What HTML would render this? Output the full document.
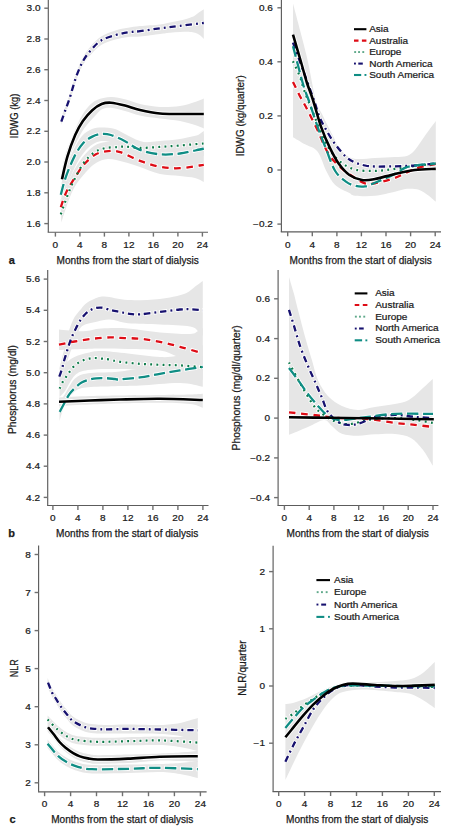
<!DOCTYPE html>
<html><head><meta charset="utf-8"><style>
html,body{margin:0;padding:0;background:#fff;width:451px;height:827px;overflow:hidden}
svg{display:block}
</style></head><body><svg width="451" height="827" viewBox="0 0 451 827" font-family='"Liberation Sans", sans-serif' fill="#1a1a1a" stroke-linejoin="round"><style>text{stroke:#1a1a1a;stroke-width:0.25px}</style><line x1="48.3" y1="0.0" x2="48.3" y2="232.2" stroke="#5c5c5c" stroke-width="1.15"/><line x1="47.7" y1="232.2" x2="208.0" y2="232.2" stroke="#5c5c5c" stroke-width="1.15"/><line x1="44.3" y1="8.2" x2="48.3" y2="8.2" stroke="#707070" stroke-width="1.4"/><text transform="translate(40.5,11.3) scale(1,0.850)" font-size="10" text-anchor="end" font-weight="normal" >3.0</text><line x1="44.3" y1="39.0" x2="48.3" y2="39.0" stroke="#707070" stroke-width="1.4"/><text transform="translate(40.5,42.1) scale(1,0.850)" font-size="10" text-anchor="end" font-weight="normal" >2.8</text><line x1="44.3" y1="69.7" x2="48.3" y2="69.7" stroke="#707070" stroke-width="1.4"/><text transform="translate(40.5,72.8) scale(1,0.850)" font-size="10" text-anchor="end" font-weight="normal" >2.6</text><line x1="44.3" y1="100.5" x2="48.3" y2="100.5" stroke="#707070" stroke-width="1.4"/><text transform="translate(40.5,103.6) scale(1,0.850)" font-size="10" text-anchor="end" font-weight="normal" >2.4</text><line x1="44.3" y1="131.3" x2="48.3" y2="131.3" stroke="#707070" stroke-width="1.4"/><text transform="translate(40.5,134.4) scale(1,0.850)" font-size="10" text-anchor="end" font-weight="normal" >2.2</text><line x1="44.3" y1="162.0" x2="48.3" y2="162.0" stroke="#707070" stroke-width="1.4"/><text transform="translate(40.5,165.1) scale(1,0.850)" font-size="10" text-anchor="end" font-weight="normal" >2.0</text><line x1="44.3" y1="192.8" x2="48.3" y2="192.8" stroke="#707070" stroke-width="1.4"/><text transform="translate(40.5,195.9) scale(1,0.850)" font-size="10" text-anchor="end" font-weight="normal" >1.8</text><line x1="44.3" y1="223.6" x2="48.3" y2="223.6" stroke="#707070" stroke-width="1.4"/><text transform="translate(40.5,226.7) scale(1,0.850)" font-size="10" text-anchor="end" font-weight="normal" >1.6</text><line x1="55.4" y1="232.2" x2="55.4" y2="236.6" stroke="#707070" stroke-width="1.4"/><text transform="translate(55.4,247.5) scale(1,0.850)" font-size="10" text-anchor="middle" font-weight="normal" >0</text><line x1="79.9" y1="232.2" x2="79.9" y2="236.6" stroke="#707070" stroke-width="1.4"/><text transform="translate(79.9,247.5) scale(1,0.850)" font-size="10" text-anchor="middle" font-weight="normal" >4</text><line x1="104.4" y1="232.2" x2="104.4" y2="236.6" stroke="#707070" stroke-width="1.4"/><text transform="translate(104.4,247.5) scale(1,0.850)" font-size="10" text-anchor="middle" font-weight="normal" >8</text><line x1="128.9" y1="232.2" x2="128.9" y2="236.6" stroke="#707070" stroke-width="1.4"/><text transform="translate(128.9,247.5) scale(1,0.850)" font-size="10" text-anchor="middle" font-weight="normal" >12</text><line x1="153.4" y1="232.2" x2="153.4" y2="236.6" stroke="#707070" stroke-width="1.4"/><text transform="translate(153.4,247.5) scale(1,0.850)" font-size="10" text-anchor="middle" font-weight="normal" >16</text><line x1="177.9" y1="232.2" x2="177.9" y2="236.6" stroke="#707070" stroke-width="1.4"/><text transform="translate(177.9,247.5) scale(1,0.850)" font-size="10" text-anchor="middle" font-weight="normal" >20</text><line x1="202.4" y1="232.2" x2="202.4" y2="236.6" stroke="#707070" stroke-width="1.4"/><text transform="translate(202.4,247.5) scale(1,0.850)" font-size="10" text-anchor="middle" font-weight="normal" >24</text><text transform="translate(18.2,115.9) rotate(-90)" font-size="10" text-anchor="middle" textLength="44.6" lengthAdjust="spacingAndGlyphs">IDWG (kg)</text><text x="56.6" y="263.8" font-size="10" text-anchor="start" font-weight="normal" textLength="142.2" lengthAdjust="spacingAndGlyphs">Months from the start of dialysis</text><path d="M61.3,117.5 C62.6,113.8 66.8,103.0 69.3,95.5 C71.8,88.0 74.0,79.0 76.4,72.5 C78.8,66.0 81.0,61.0 83.5,56.5 C86.0,52.0 88.5,48.8 91.4,45.5 C94.4,42.2 97.2,39.0 101.2,36.5 C105.2,34.0 110.9,31.9 115.4,30.5 C119.9,29.1 123.9,28.5 128.0,27.8 C132.1,27.1 134.7,26.7 140.0,26.1 C145.3,25.5 155.0,25.0 160.0,24.4 C165.0,23.8 166.7,23.0 170.0,22.4 C173.3,21.8 176.7,21.4 180.0,20.6 C183.3,19.8 187.5,18.6 190.0,17.7 C192.5,16.8 193.3,16.5 195.0,15.5 C196.7,14.5 198.5,12.8 200.0,11.8 C201.5,10.8 203.2,9.7 203.8,9.3 L203.8,39.0 C203.2,38.4 201.5,36.3 200.0,35.3 C198.5,34.3 196.7,33.4 195.0,32.8 C193.3,32.2 192.5,32.0 190.0,31.9 C187.5,31.8 183.3,31.9 180.0,32.0 C176.7,32.1 173.3,32.5 170.0,32.8 C166.7,33.1 165.0,33.4 160.0,34.0 C155.0,34.6 145.3,36.1 140.0,36.6 C134.7,37.1 132.1,36.5 128.0,37.0 C123.9,37.5 119.9,38.2 115.4,39.5 C110.9,40.8 105.2,42.6 101.2,45.0 C97.2,47.4 94.4,50.8 91.4,54.0 C88.5,57.2 86.0,59.7 83.5,64.0 C81.0,68.3 78.8,73.5 76.4,80.0 C74.0,86.5 71.8,95.5 69.3,103.0 C66.8,110.5 62.6,121.3 61.3,125.0 Z" fill="#e6e6e6"/><path d="M60.5,178.0 C61.2,174.3 63.1,162.8 65.0,156.0 C66.9,149.2 69.5,143.7 72.0,137.5 C74.5,131.3 77.3,124.1 80.0,119.0 C82.7,113.9 85.2,110.2 88.0,107.0 C90.8,103.8 93.2,101.7 97.0,100.0 C100.8,98.3 106.2,97.1 110.9,97.0 C115.6,96.9 120.2,98.1 125.0,99.3 C129.8,100.5 134.2,102.7 140.0,104.0 C145.8,105.3 153.3,106.7 160.0,107.0 C166.7,107.3 174.2,106.8 180.0,106.0 C185.8,105.2 191.0,103.2 195.0,102.0 C199.0,100.8 202.3,99.1 203.8,98.5 L203.8,128.5 C202.3,127.9 199.0,126.2 195.0,125.0 C191.0,123.8 185.8,122.1 180.0,121.0 C174.2,119.9 166.7,119.4 160.0,118.5 C153.3,117.6 145.8,116.8 140.0,115.5 C134.2,114.2 129.8,112.3 125.0,111.0 C120.2,109.7 114.8,108.1 110.9,107.8 C107.0,107.5 104.2,108.0 101.6,109.4 C98.9,110.8 97.8,112.9 95.0,116.0 C92.2,119.1 87.7,123.5 84.5,128.0 C81.3,132.5 78.7,137.7 76.0,143.0 C73.3,148.3 70.7,153.7 68.5,160.0 C66.3,166.3 63.9,177.5 63.0,181.0 Z" fill="#e6e6e6"/><path d="M60.5,188.0 C61.2,185.0 62.9,176.2 65.0,170.0 C67.1,163.8 70.2,156.7 73.0,151.0 C75.8,145.3 78.8,139.7 82.0,136.0 C85.2,132.3 88.7,130.4 92.0,129.0 C95.3,127.6 97.8,127.5 101.6,127.5 C105.4,127.5 111.1,127.9 115.0,129.0 C118.9,130.1 120.8,132.0 125.0,134.0 C129.2,136.0 134.2,139.2 140.0,141.0 C145.8,142.8 153.3,144.0 160.0,144.5 C166.7,145.0 174.2,145.2 180.0,144.0 C185.8,142.8 191.0,139.2 195.0,137.0 C199.0,134.8 202.3,132.0 203.8,131.0 L203.8,156.0 C199.8,156.5 187.3,158.3 180.0,159.0 C172.7,159.7 166.7,160.5 160.0,160.0 C153.3,159.5 145.7,157.9 140.0,156.0 C134.3,154.1 130.2,150.6 126.0,148.5 C121.8,146.4 118.7,144.8 115.0,143.5 C111.3,142.2 107.3,141.1 104.0,141.0 C100.7,140.9 98.0,141.5 95.0,143.0 C92.0,144.5 89.0,146.7 86.0,150.0 C83.0,153.3 80.0,157.5 77.0,163.0 C74.0,168.5 70.5,176.8 68.0,183.0 C65.5,189.2 63.0,197.2 62.0,200.0 Z" fill="#e6e6e6"/><path d="M60.5,200.0 C61.2,198.3 63.1,194.3 65.0,190.0 C66.9,185.7 69.2,179.3 72.0,174.0 C74.8,168.7 78.3,162.7 82.0,158.0 C85.7,153.3 90.0,148.7 94.0,146.0 C98.0,143.3 101.7,142.8 106.0,142.0 C110.3,141.2 114.3,141.4 120.0,141.5 C125.7,141.6 133.3,142.6 140.0,142.5 C146.7,142.4 153.3,141.6 160.0,141.0 C166.7,140.4 172.7,140.2 180.0,139.0 C187.3,137.8 199.8,134.8 203.8,134.0 L203.8,182.0 C202.3,181.3 199.0,179.0 195.0,178.0 C191.0,177.0 185.8,176.7 180.0,176.0 C174.2,175.3 166.7,175.5 160.0,174.0 C153.3,172.5 146.0,169.0 140.0,167.0 C134.0,165.0 129.3,163.3 124.0,162.0 C118.7,160.7 112.7,158.8 108.0,159.0 C103.3,159.2 99.7,160.8 96.0,163.0 C92.3,165.2 89.7,167.8 86.0,172.0 C82.3,176.2 77.3,182.0 74.0,188.0 C70.7,194.0 68.1,202.2 66.0,208.0 C63.9,213.8 62.1,220.2 61.3,222.6 Z" fill="#e6e6e6"/><path d="M60.8,207.2 C61.6,204.9 63.7,197.8 65.7,193.4 C67.7,189.0 69.8,185.6 72.8,180.9 C75.8,176.2 79.7,169.4 83.5,165.0 C87.3,160.6 91.8,156.6 95.9,154.3 C100.0,152.0 104.2,151.5 108.3,151.1 C112.3,150.7 114.9,150.5 120.2,152.1 C125.5,153.7 133.4,158.4 140.0,160.8 C146.6,163.2 153.3,165.6 160.0,166.8 C166.7,168.0 172.6,168.5 179.9,168.2 C187.2,167.9 199.8,165.4 203.8,164.8" fill="none" stroke="#fff" stroke-width="4.0" stroke-dasharray="8.2 4.0" stroke-dashoffset="0.8"/><path d="M60.8,214.3 C61.6,212.0 63.7,205.7 65.7,200.4 C67.7,195.1 69.8,188.9 72.8,182.7 C75.8,176.5 80.0,168.2 83.5,163.2 C87.0,158.2 90.6,155.1 94.1,152.6 C97.6,150.1 100.9,149.1 104.7,148.2 C108.5,147.3 113.7,147.4 117.1,147.1 C120.5,146.8 121.2,146.5 125.0,146.6 C128.8,146.7 134.2,147.8 140.0,147.9 C145.8,148.0 153.3,147.3 160.0,146.9 C166.7,146.5 172.6,146.1 179.9,145.5 C187.2,144.9 199.8,143.8 203.8,143.5" fill="none" stroke="#fff" stroke-width="3.8" stroke-dasharray="3.5 2.7" stroke-dashoffset="0.8"/><path d="M61.3,121.6 C61.9,119.8 63.9,114.2 65.2,110.5 C66.5,106.8 67.4,105.0 69.3,99.3 C71.2,93.6 74.0,82.7 76.4,76.2 C78.8,69.7 81.0,64.7 83.5,60.3 C86.0,55.9 88.5,52.9 91.4,49.6 C94.4,46.3 97.2,42.8 101.2,40.4 C105.2,38.0 110.9,36.5 115.4,35.1 C119.9,33.8 123.9,32.9 128.0,32.3 C132.1,31.6 134.7,31.9 140.0,31.2 C145.3,30.5 153.3,29.2 160.0,28.3 C166.7,27.4 172.7,26.8 180.0,25.9 C187.3,25.0 199.8,23.5 203.8,23.0" fill="none" stroke="#fff" stroke-width="4.0" stroke-dasharray="8.0 2.4 3.5 2.3" stroke-dashoffset="0.8"/><path d="M60.8,194.8 C61.6,191.9 63.4,183.9 65.7,177.4 C68.0,170.9 71.6,161.9 74.6,156.1 C77.6,150.3 80.5,146.1 83.5,142.8 C86.5,139.6 89.3,138.1 92.3,136.6 C95.3,135.1 98.5,134.2 101.6,133.9 C104.7,133.6 107.0,133.8 110.9,135.0 C114.8,136.2 120.2,138.7 125.0,141.2 C129.8,143.7 134.2,147.7 140.0,149.9 C145.8,152.1 153.3,153.7 160.0,154.3 C166.7,154.9 173.3,154.3 179.9,153.5 C186.5,152.7 195.8,150.3 199.8,149.5 C203.8,148.7 203.1,148.7 203.8,148.5" fill="none" stroke="#fff" stroke-width="4.0" stroke-dasharray="12.8 3.0" stroke-dashoffset="0.8"/><path d="M62.0,179.2 C62.9,175.4 65.2,164.1 67.4,156.7 C69.6,149.3 72.6,140.9 75.2,135.0 C77.8,129.1 80.1,125.1 82.9,121.0 C85.8,116.9 89.2,113.0 92.3,110.2 C95.4,107.4 98.5,105.2 101.6,104.0 C104.7,102.8 107.0,102.5 110.9,102.7 C114.8,103.0 120.2,104.3 125.0,105.5 C129.8,106.7 134.2,108.7 140.0,110.0 C145.8,111.3 153.3,112.8 160.0,113.5 C166.7,114.2 172.7,113.9 180.0,114.0 C187.3,114.1 199.8,114.0 203.8,114.0" fill="none" stroke="#fff" stroke-width="4.3"/><path d="M60.8,207.2 C61.6,204.9 63.7,197.8 65.7,193.4 C67.7,189.0 69.8,185.6 72.8,180.9 C75.8,176.2 79.7,169.4 83.5,165.0 C87.3,160.6 91.8,156.6 95.9,154.3 C100.0,152.0 104.2,151.5 108.3,151.1 C112.3,150.7 114.9,150.5 120.2,152.1 C125.5,153.7 133.4,158.4 140.0,160.8 C146.6,163.2 153.3,165.6 160.0,166.8 C166.7,168.0 172.6,168.5 179.9,168.2 C187.2,167.9 199.8,165.4 203.8,164.8" fill="none" stroke="#de0c16" stroke-width="2.3" stroke-dasharray="6.6 5.6"/><path d="M60.8,214.3 C61.6,212.0 63.7,205.7 65.7,200.4 C67.7,195.1 69.8,188.9 72.8,182.7 C75.8,176.5 80.0,168.2 83.5,163.2 C87.0,158.2 90.6,155.1 94.1,152.6 C97.6,150.1 100.9,149.1 104.7,148.2 C108.5,147.3 113.7,147.4 117.1,147.1 C120.5,146.8 121.2,146.5 125.0,146.6 C128.8,146.7 134.2,147.8 140.0,147.9 C145.8,148.0 153.3,147.3 160.0,146.9 C166.7,146.5 172.6,146.1 179.9,145.5 C187.2,144.9 199.8,143.8 203.8,143.5" fill="none" stroke="#0c7a48" stroke-width="2.2" stroke-dasharray="1.9 4.3"/><path d="M61.3,121.6 C61.9,119.8 63.9,114.2 65.2,110.5 C66.5,106.8 67.4,105.0 69.3,99.3 C71.2,93.6 74.0,82.7 76.4,76.2 C78.8,69.7 81.0,64.7 83.5,60.3 C86.0,55.9 88.5,52.9 91.4,49.6 C94.4,46.3 97.2,42.8 101.2,40.4 C105.2,38.0 110.9,36.5 115.4,35.1 C119.9,33.8 123.9,32.9 128.0,32.3 C132.1,31.6 134.7,31.9 140.0,31.2 C145.3,30.5 153.3,29.2 160.0,28.3 C166.7,27.4 172.7,26.8 180.0,25.9 C187.3,25.0 199.8,23.5 203.8,23.0" fill="none" stroke="#17116f" stroke-width="2.3" stroke-dasharray="6.4 4 1.9 3.9"/><path d="M60.8,194.8 C61.6,191.9 63.4,183.9 65.7,177.4 C68.0,170.9 71.6,161.9 74.6,156.1 C77.6,150.3 80.5,146.1 83.5,142.8 C86.5,139.6 89.3,138.1 92.3,136.6 C95.3,135.1 98.5,134.2 101.6,133.9 C104.7,133.6 107.0,133.8 110.9,135.0 C114.8,136.2 120.2,138.7 125.0,141.2 C129.8,143.7 134.2,147.7 140.0,149.9 C145.8,152.1 153.3,153.7 160.0,154.3 C166.7,154.9 173.3,154.3 179.9,153.5 C186.5,152.7 195.8,150.3 199.8,149.5 C203.8,148.7 203.1,148.7 203.8,148.5" fill="none" stroke="#0f8d84" stroke-width="2.3" stroke-dasharray="11.2 4.6"/><path d="M62.0,179.2 C62.9,175.4 65.2,164.1 67.4,156.7 C69.6,149.3 72.6,140.9 75.2,135.0 C77.8,129.1 80.1,125.1 82.9,121.0 C85.8,116.9 89.2,113.0 92.3,110.2 C95.4,107.4 98.5,105.2 101.6,104.0 C104.7,102.8 107.0,102.5 110.9,102.7 C114.8,103.0 120.2,104.3 125.0,105.5 C129.8,106.7 134.2,108.7 140.0,110.0 C145.8,111.3 153.3,112.8 160.0,113.5 C166.7,114.2 172.7,113.9 180.0,114.0 C187.3,114.1 199.8,114.0 203.8,114.0" fill="none" stroke="#000000" stroke-width="2.6"/><line x1="281.4" y1="0.0" x2="281.4" y2="231.9" stroke="#5c5c5c" stroke-width="1.15"/><line x1="280.8" y1="231.9" x2="441.0" y2="231.9" stroke="#5c5c5c" stroke-width="1.15"/><line x1="277.4" y1="7.8" x2="281.4" y2="7.8" stroke="#707070" stroke-width="1.4"/><text transform="translate(272.8,10.9) scale(1,0.850)" font-size="10" text-anchor="end" font-weight="normal" >0.6</text><line x1="277.4" y1="61.8" x2="281.4" y2="61.8" stroke="#707070" stroke-width="1.4"/><text transform="translate(272.8,64.9) scale(1,0.850)" font-size="10" text-anchor="end" font-weight="normal" >0.4</text><line x1="277.4" y1="115.9" x2="281.4" y2="115.9" stroke="#707070" stroke-width="1.4"/><text transform="translate(272.8,119.0) scale(1,0.850)" font-size="10" text-anchor="end" font-weight="normal" >0.2</text><line x1="277.4" y1="170.0" x2="281.4" y2="170.0" stroke="#707070" stroke-width="1.4"/><text transform="translate(272.8,173.1) scale(1,0.850)" font-size="10" text-anchor="end" font-weight="normal" >0</text><line x1="277.4" y1="224.1" x2="281.4" y2="224.1" stroke="#707070" stroke-width="1.4"/><text transform="translate(272.8,227.2) scale(1,0.850)" font-size="10" text-anchor="end" font-weight="normal" >−0.2</text><line x1="287.7" y1="231.9" x2="287.7" y2="236.3" stroke="#707070" stroke-width="1.4"/><text transform="translate(287.7,247.5) scale(1,0.850)" font-size="10" text-anchor="middle" font-weight="normal" >0</text><line x1="312.3" y1="231.9" x2="312.3" y2="236.3" stroke="#707070" stroke-width="1.4"/><text transform="translate(312.3,247.5) scale(1,0.850)" font-size="10" text-anchor="middle" font-weight="normal" >4</text><line x1="336.9" y1="231.9" x2="336.9" y2="236.3" stroke="#707070" stroke-width="1.4"/><text transform="translate(336.9,247.5) scale(1,0.850)" font-size="10" text-anchor="middle" font-weight="normal" >8</text><line x1="361.4" y1="231.9" x2="361.4" y2="236.3" stroke="#707070" stroke-width="1.4"/><text transform="translate(361.4,247.5) scale(1,0.850)" font-size="10" text-anchor="middle" font-weight="normal" >12</text><line x1="386.0" y1="231.9" x2="386.0" y2="236.3" stroke="#707070" stroke-width="1.4"/><text transform="translate(386.0,247.5) scale(1,0.850)" font-size="10" text-anchor="middle" font-weight="normal" >16</text><line x1="410.6" y1="231.9" x2="410.6" y2="236.3" stroke="#707070" stroke-width="1.4"/><text transform="translate(410.6,247.5) scale(1,0.850)" font-size="10" text-anchor="middle" font-weight="normal" >20</text><line x1="435.2" y1="231.9" x2="435.2" y2="236.3" stroke="#707070" stroke-width="1.4"/><text transform="translate(435.2,247.5) scale(1,0.850)" font-size="10" text-anchor="middle" font-weight="normal" >24</text><text transform="translate(243.5,115.8) rotate(-90)" font-size="10" text-anchor="middle" textLength="81.0" lengthAdjust="spacingAndGlyphs">IDWG (kg/quarter)</text><text x="289.5" y="263.8" font-size="10" text-anchor="start" font-weight="normal" textLength="142.2" lengthAdjust="spacingAndGlyphs">Months from the start of dialysis</text><path d="M293.0,3.5 C294.2,8.2 298.0,22.2 300.5,32.0 C303.0,41.8 305.5,50.7 308.0,62.0 C310.5,73.3 313.4,91.3 315.7,100.0 C318.0,108.7 319.9,109.6 322.0,114.0 C324.1,118.4 326.1,122.6 328.1,126.6 C330.1,130.6 331.9,134.2 334.0,138.0 C336.1,141.8 337.3,146.2 340.5,149.6 C343.7,153.0 347.2,157.1 353.0,158.5 C358.8,159.9 368.0,158.2 375.0,157.9 C382.0,157.6 389.6,157.2 394.9,156.9 C400.2,156.6 403.6,157.1 406.9,155.9 C410.2,154.7 411.9,153.2 414.9,149.9 C417.9,146.6 421.3,140.7 424.8,135.9 C428.3,131.1 434.0,123.5 435.8,121.0 L435.8,201.8 C434.6,200.8 431.6,197.8 428.8,195.8 C426.0,193.8 422.5,191.0 418.9,189.8 C415.2,188.6 410.9,188.5 406.9,188.8 C402.9,189.1 400.2,190.6 394.9,191.8 C389.6,193.0 381.6,195.1 375.0,195.8 C368.4,196.5 359.3,196.2 355.0,195.8 C350.7,195.4 352.7,194.9 349.4,193.1 C346.1,191.3 339.0,188.8 335.2,185.1 C331.4,181.4 329.2,176.6 326.3,171.0 C323.4,165.4 321.1,155.8 317.5,151.4 C313.9,147.0 309.1,146.7 305.0,144.3 C300.9,141.9 295.0,138.4 293.0,137.2 Z" fill="#e6e6e6"/><path d="M293.0,81.9 C294.1,84.2 297.7,91.8 299.7,95.7 C301.7,99.6 303.1,101.8 305.0,105.3 C306.9,108.8 308.9,112.9 311.0,117.0 C313.1,121.1 314.6,124.1 317.5,130.1 C320.4,136.1 324.3,147.0 328.1,153.2 C331.9,159.4 336.0,163.3 340.5,167.4 C345.0,171.5 350.9,175.3 355.0,178.0 C359.1,180.7 361.7,182.4 365.0,183.3 C368.3,184.2 370.0,184.2 375.0,183.3 C380.0,182.4 388.2,180.3 394.9,177.9 C401.5,175.5 408.1,171.2 414.9,168.9 C421.7,166.6 432.3,164.7 435.8,163.8" fill="none" stroke="#fff" stroke-width="4.0" stroke-dasharray="8.2 4.0" stroke-dashoffset="0.8"/><path d="M293.0,61.2 C294.1,63.7 297.8,71.3 299.7,76.2 C301.6,81.1 302.1,84.8 304.2,90.4 C306.2,96.0 309.0,102.6 312.0,110.0 C315.0,117.4 319.0,128.3 322.0,135.0 C325.0,141.7 326.9,145.5 330.0,150.0 C333.1,154.5 336.3,158.8 340.5,162.0 C344.7,165.2 349.2,168.0 355.0,169.5 C360.8,171.0 368.4,171.0 375.0,170.9 C381.6,170.8 388.2,169.7 394.9,168.9 C401.5,168.1 408.1,166.7 414.9,165.9 C421.7,165.1 432.3,164.2 435.8,163.9" fill="none" stroke="#fff" stroke-width="3.8" stroke-dasharray="3.5 2.7" stroke-dashoffset="0.8"/><path d="M293.0,42.6 C294.7,47.2 299.5,60.4 303.0,70.0 C306.5,79.6 311.1,92.2 313.9,100.0 C316.6,107.8 317.4,112.0 319.5,117.0 C321.6,122.0 323.7,125.5 326.3,130.1 C328.9,134.7 331.9,139.9 335.2,144.3 C338.5,148.7 342.6,153.7 345.9,156.7 C349.2,159.7 351.8,161.0 355.0,162.5 C358.2,164.0 361.7,164.8 365.0,165.5 C368.3,166.2 370.0,166.4 375.0,166.5 C380.0,166.6 388.2,166.5 394.9,166.3 C401.5,166.1 408.1,166.0 414.9,165.5 C421.7,165.0 432.3,163.8 435.8,163.5" fill="none" stroke="#fff" stroke-width="4.0" stroke-dasharray="8.0 2.4 3.5 2.3" stroke-dashoffset="0.8"/><path d="M293.0,46.1 C294.7,52.6 300.7,76.1 303.3,85.1 C305.9,94.1 306.2,93.1 308.6,100.0 C311.0,106.9 314.6,118.3 317.5,126.6 C320.4,134.9 323.4,142.2 326.3,149.6 C329.2,157.0 331.9,165.7 335.2,171.0 C338.5,176.3 342.6,179.1 345.9,181.6 C349.2,184.1 351.8,185.0 355.0,185.8 C358.2,186.6 361.7,186.9 365.0,186.4 C368.3,185.9 370.0,184.9 375.0,182.8 C380.0,180.7 389.9,176.4 394.9,173.9 C399.9,171.4 401.6,169.3 404.9,167.9 C408.2,166.5 409.8,166.2 414.9,165.5 C420.0,164.8 432.3,163.8 435.8,163.5" fill="none" stroke="#fff" stroke-width="4.0" stroke-dasharray="12.8 3.0" stroke-dashoffset="0.8"/><path d="M293.0,34.6 C294.3,39.2 298.7,53.9 301.0,62.0 C303.3,70.1 305.0,76.7 307.0,83.0 C309.0,89.3 310.7,92.7 313.0,100.0 C315.3,107.3 318.2,118.6 321.0,126.6 C323.8,134.6 326.9,141.7 329.9,147.9 C332.9,154.1 335.6,159.3 338.8,163.8 C342.1,168.3 345.5,172.3 349.4,175.0 C353.3,177.7 357.7,179.3 362.0,180.0 C366.3,180.7 369.5,180.0 375.0,179.0 C380.5,178.0 388.2,175.4 394.9,173.9 C401.5,172.4 408.1,170.8 414.9,170.0 C421.7,169.2 432.3,169.1 435.8,168.9" fill="none" stroke="#fff" stroke-width="4.3"/><path d="M293.0,81.9 C294.1,84.2 297.7,91.8 299.7,95.7 C301.7,99.6 303.1,101.8 305.0,105.3 C306.9,108.8 308.9,112.9 311.0,117.0 C313.1,121.1 314.6,124.1 317.5,130.1 C320.4,136.1 324.3,147.0 328.1,153.2 C331.9,159.4 336.0,163.3 340.5,167.4 C345.0,171.5 350.9,175.3 355.0,178.0 C359.1,180.7 361.7,182.4 365.0,183.3 C368.3,184.2 370.0,184.2 375.0,183.3 C380.0,182.4 388.2,180.3 394.9,177.9 C401.5,175.5 408.1,171.2 414.9,168.9 C421.7,166.6 432.3,164.7 435.8,163.8" fill="none" stroke="#de0c16" stroke-width="2.3" stroke-dasharray="6.6 5.6"/><path d="M293.0,61.2 C294.1,63.7 297.8,71.3 299.7,76.2 C301.6,81.1 302.1,84.8 304.2,90.4 C306.2,96.0 309.0,102.6 312.0,110.0 C315.0,117.4 319.0,128.3 322.0,135.0 C325.0,141.7 326.9,145.5 330.0,150.0 C333.1,154.5 336.3,158.8 340.5,162.0 C344.7,165.2 349.2,168.0 355.0,169.5 C360.8,171.0 368.4,171.0 375.0,170.9 C381.6,170.8 388.2,169.7 394.9,168.9 C401.5,168.1 408.1,166.7 414.9,165.9 C421.7,165.1 432.3,164.2 435.8,163.9" fill="none" stroke="#0c7a48" stroke-width="2.2" stroke-dasharray="1.9 4.3"/><path d="M293.0,42.6 C294.7,47.2 299.5,60.4 303.0,70.0 C306.5,79.6 311.1,92.2 313.9,100.0 C316.6,107.8 317.4,112.0 319.5,117.0 C321.6,122.0 323.7,125.5 326.3,130.1 C328.9,134.7 331.9,139.9 335.2,144.3 C338.5,148.7 342.6,153.7 345.9,156.7 C349.2,159.7 351.8,161.0 355.0,162.5 C358.2,164.0 361.7,164.8 365.0,165.5 C368.3,166.2 370.0,166.4 375.0,166.5 C380.0,166.6 388.2,166.5 394.9,166.3 C401.5,166.1 408.1,166.0 414.9,165.5 C421.7,165.0 432.3,163.8 435.8,163.5" fill="none" stroke="#17116f" stroke-width="2.3" stroke-dasharray="6.4 4 1.9 3.9"/><path d="M293.0,46.1 C294.7,52.6 300.7,76.1 303.3,85.1 C305.9,94.1 306.2,93.1 308.6,100.0 C311.0,106.9 314.6,118.3 317.5,126.6 C320.4,134.9 323.4,142.2 326.3,149.6 C329.2,157.0 331.9,165.7 335.2,171.0 C338.5,176.3 342.6,179.1 345.9,181.6 C349.2,184.1 351.8,185.0 355.0,185.8 C358.2,186.6 361.7,186.9 365.0,186.4 C368.3,185.9 370.0,184.9 375.0,182.8 C380.0,180.7 389.9,176.4 394.9,173.9 C399.9,171.4 401.6,169.3 404.9,167.9 C408.2,166.5 409.8,166.2 414.9,165.5 C420.0,164.8 432.3,163.8 435.8,163.5" fill="none" stroke="#0f8d84" stroke-width="2.3" stroke-dasharray="11.2 4.6"/><path d="M293.0,34.6 C294.3,39.2 298.7,53.9 301.0,62.0 C303.3,70.1 305.0,76.7 307.0,83.0 C309.0,89.3 310.7,92.7 313.0,100.0 C315.3,107.3 318.2,118.6 321.0,126.6 C323.8,134.6 326.9,141.7 329.9,147.9 C332.9,154.1 335.6,159.3 338.8,163.8 C342.1,168.3 345.5,172.3 349.4,175.0 C353.3,177.7 357.7,179.3 362.0,180.0 C366.3,180.7 369.5,180.0 375.0,179.0 C380.5,178.0 388.2,175.4 394.9,173.9 C401.5,172.4 408.1,170.8 414.9,170.0 C421.7,169.2 432.3,169.1 435.8,168.9" fill="none" stroke="#000000" stroke-width="2.6"/><path d="M354.0,29.2 h12.4" stroke="#000" stroke-width="2.1"/><text transform="translate(369.2,32.1) scale(1,0.850)" font-size="10" text-anchor="start" font-weight="normal" >Asia</text><path d="M354.0,40.6 h4.5 M361.9,40.6 h4.5" stroke="#de0c16" stroke-width="2.1"/><text transform="translate(369.2,43.5) scale(1,0.850)" font-size="10" text-anchor="start" font-weight="normal" >Australia</text><rect x="354.2" y="51.1" width="1.9" height="1.9" fill="#5fa98a"/><rect x="358.1" y="51.1" width="1.9" height="1.9" fill="#5fa98a"/><rect x="362.3" y="51.1" width="1.9" height="1.9" fill="#5fa98a"/><text transform="translate(369.2,55.0) scale(1,0.850)" font-size="10" text-anchor="start" font-weight="normal" >Europe</text><rect x="354.0" y="62.6" width="1.9" height="1.9" fill="#17116f"/><path d="M358.3,63.6 h4.5" stroke="#17116f" stroke-width="2.1"/><text transform="translate(369.2,66.5) scale(1,0.850)" font-size="10" text-anchor="start" font-weight="normal" >North America</text><path d="M354.0,75.0 h7.2" stroke="#0f8d84" stroke-width="2.1"/><rect x="364.5" y="74.0" width="1.9" height="1.9" fill="#0f8d84"/><text transform="translate(369.2,77.9) scale(1,0.850)" font-size="10" text-anchor="start" font-weight="normal" >South America</text><line x1="47.7" y1="270.0" x2="47.7" y2="505.5" stroke="#5c5c5c" stroke-width="1.15"/><line x1="47.1" y1="505.5" x2="208.5" y2="505.5" stroke="#5c5c5c" stroke-width="1.15"/><line x1="43.7" y1="279.1" x2="47.7" y2="279.1" stroke="#707070" stroke-width="1.4"/><text transform="translate(40.0,282.2) scale(1,0.850)" font-size="10" text-anchor="end" font-weight="normal" >5.6</text><line x1="43.7" y1="310.3" x2="47.7" y2="310.3" stroke="#707070" stroke-width="1.4"/><text transform="translate(40.0,313.4) scale(1,0.850)" font-size="10" text-anchor="end" font-weight="normal" >5.4</text><line x1="43.7" y1="341.5" x2="47.7" y2="341.5" stroke="#707070" stroke-width="1.4"/><text transform="translate(40.0,344.6) scale(1,0.850)" font-size="10" text-anchor="end" font-weight="normal" >5.2</text><line x1="43.7" y1="372.7" x2="47.7" y2="372.7" stroke="#707070" stroke-width="1.4"/><text transform="translate(40.0,375.8) scale(1,0.850)" font-size="10" text-anchor="end" font-weight="normal" >5.0</text><line x1="43.7" y1="403.9" x2="47.7" y2="403.9" stroke="#707070" stroke-width="1.4"/><text transform="translate(40.0,407.0) scale(1,0.850)" font-size="10" text-anchor="end" font-weight="normal" >4.8</text><line x1="43.7" y1="435.1" x2="47.7" y2="435.1" stroke="#707070" stroke-width="1.4"/><text transform="translate(40.0,438.2) scale(1,0.850)" font-size="10" text-anchor="end" font-weight="normal" >4.6</text><line x1="43.7" y1="466.2" x2="47.7" y2="466.2" stroke="#707070" stroke-width="1.4"/><text transform="translate(40.0,469.3) scale(1,0.850)" font-size="10" text-anchor="end" font-weight="normal" >4.4</text><line x1="43.7" y1="497.4" x2="47.7" y2="497.4" stroke="#707070" stroke-width="1.4"/><text transform="translate(40.0,500.5) scale(1,0.850)" font-size="10" text-anchor="end" font-weight="normal" >4.2</text><line x1="52.9" y1="505.5" x2="52.9" y2="509.9" stroke="#707070" stroke-width="1.4"/><text transform="translate(52.9,521.2) scale(1,0.850)" font-size="10" text-anchor="middle" font-weight="normal" >0</text><line x1="77.9" y1="505.5" x2="77.9" y2="509.9" stroke="#707070" stroke-width="1.4"/><text transform="translate(77.9,521.2) scale(1,0.850)" font-size="10" text-anchor="middle" font-weight="normal" >4</text><line x1="102.9" y1="505.5" x2="102.9" y2="509.9" stroke="#707070" stroke-width="1.4"/><text transform="translate(102.9,521.2) scale(1,0.850)" font-size="10" text-anchor="middle" font-weight="normal" >8</text><line x1="127.9" y1="505.5" x2="127.9" y2="509.9" stroke="#707070" stroke-width="1.4"/><text transform="translate(127.9,521.2) scale(1,0.850)" font-size="10" text-anchor="middle" font-weight="normal" >12</text><line x1="152.9" y1="505.5" x2="152.9" y2="509.9" stroke="#707070" stroke-width="1.4"/><text transform="translate(152.9,521.2) scale(1,0.850)" font-size="10" text-anchor="middle" font-weight="normal" >16</text><line x1="177.9" y1="505.5" x2="177.9" y2="509.9" stroke="#707070" stroke-width="1.4"/><text transform="translate(177.9,521.2) scale(1,0.850)" font-size="10" text-anchor="middle" font-weight="normal" >20</text><line x1="202.9" y1="505.5" x2="202.9" y2="509.9" stroke="#707070" stroke-width="1.4"/><text transform="translate(202.9,521.2) scale(1,0.850)" font-size="10" text-anchor="middle" font-weight="normal" >24</text><text transform="translate(16.3,389.5) rotate(-90)" font-size="10" text-anchor="middle" textLength="89.0" lengthAdjust="spacingAndGlyphs">Phosphorus (mg/dl)</text><text x="56.1" y="536.9" font-size="10" text-anchor="start" font-weight="normal" textLength="142.2" lengthAdjust="spacingAndGlyphs">Months from the start of dialysis</text><path d="M59.5,368.0 C59.9,366.3 61.2,361.3 62.0,358.0 C62.8,354.7 63.7,351.3 64.5,348.0 C65.3,344.7 66.2,341.2 67.0,338.0 C67.8,334.8 68.3,332.4 69.5,329.0 C70.7,325.6 72.4,321.0 74.3,317.6 C76.2,314.2 79.1,311.2 81.1,308.9 C83.0,306.5 83.8,305.1 86.0,303.5 C88.2,301.9 91.0,300.1 94.1,299.0 C97.2,297.9 99.0,296.4 104.7,296.6 C110.4,296.8 118.8,299.7 128.0,300.1 C137.2,300.5 150.6,299.9 159.9,298.9 C169.2,297.9 177.9,296.1 183.9,294.0 C189.9,291.9 192.7,288.2 195.8,286.0 C199.0,283.8 201.6,281.8 202.8,281.0 L202.8,336.0 C202.0,335.2 200.1,332.6 198.0,331.0 C195.9,329.4 196.3,327.6 190.0,326.5 C183.7,325.4 170.3,325.1 160.0,324.5 C149.7,323.9 136.3,324.0 128.0,323.2 C119.7,322.4 115.2,319.9 110.1,319.6 C105.0,319.3 101.8,320.6 97.6,321.4 C93.4,322.2 87.9,323.3 85.0,324.5 C82.1,325.7 81.3,326.8 80.0,328.5 C78.7,330.2 78.1,332.4 77.0,335.0 C75.9,337.6 74.7,341.0 73.5,344.0 C72.3,347.0 71.1,350.0 70.0,353.0 C68.9,356.0 67.9,359.2 67.0,362.0 C66.1,364.8 65.3,367.3 64.5,370.0 C63.7,372.7 62.8,375.5 62.0,378.0 C61.2,380.5 59.9,383.8 59.5,385.0 Z" fill="#e6e6e6"/><path d="M59.0,329.4 C63.1,329.7 76.5,331.3 83.5,331.2 C90.5,331.1 93.8,328.9 101.2,328.5 C108.6,328.1 118.2,327.8 128.0,328.5 C137.8,329.2 149.7,331.6 160.0,332.5 C170.3,333.4 183.7,334.2 190.0,334.0 C196.3,333.8 195.9,332.0 198.0,331.0 C200.1,330.0 202.0,328.5 202.8,328.0 L202.8,372.0 C200.7,370.3 194.5,364.7 190.0,362.0 C185.5,359.3 181.0,357.9 176.0,356.0 C171.0,354.1 168.0,351.7 160.0,350.5 C152.0,349.3 137.8,349.3 128.0,349.0 C118.2,348.7 108.6,348.5 101.2,348.5 C93.8,348.5 90.5,348.8 83.5,349.0 C76.5,349.2 63.1,349.8 59.0,350.0 Z" fill="#e6e6e6"/><path d="M59.5,374.0 C59.9,373.0 61.1,369.8 62.0,368.0 C62.9,366.2 62.8,365.2 65.0,363.3 C67.2,361.4 71.2,358.5 75.0,356.7 C78.8,354.9 83.6,353.6 88.0,352.7 C92.4,351.8 94.5,350.9 101.2,351.0 C107.9,351.1 118.2,352.5 128.0,353.5 C137.8,354.5 152.0,356.6 160.0,357.0 C168.0,357.4 171.0,356.8 176.0,356.0 C181.0,355.2 185.5,353.8 190.0,352.0 C194.5,350.2 200.7,346.2 202.8,345.0 L202.8,380.0 C200.7,379.2 197.1,376.3 190.0,375.0 C182.9,373.7 169.3,372.9 160.0,372.0 C150.7,371.1 141.5,370.0 134.0,369.5 C126.5,369.0 122.7,368.9 115.0,369.0 C107.3,369.1 94.7,368.9 88.0,370.0 C81.3,371.1 78.8,371.8 75.0,375.3 C71.2,378.8 67.6,387.4 65.0,391.0 C62.4,394.6 60.4,396.0 59.5,397.0 Z" fill="#e6e6e6"/><path d="M59.5,402.0 C60.4,400.7 62.4,397.9 65.0,394.0 C67.6,390.1 71.2,382.1 75.0,378.6 C78.8,375.2 81.3,374.4 88.0,373.3 C94.7,372.2 107.3,372.6 115.0,372.0 C122.7,371.4 126.5,370.5 134.0,369.5 C141.5,368.5 152.3,367.2 160.0,366.0 C167.7,364.8 172.9,363.8 180.0,362.0 C187.1,360.2 199.0,356.2 202.8,355.0 L202.8,386.7 C199.0,386.1 190.5,383.2 180.0,383.0 C169.5,382.8 150.8,385.0 140.0,385.5 C129.2,386.0 123.7,385.9 115.0,386.2 C106.3,386.5 94.7,386.4 88.0,387.2 C81.3,388.0 78.8,388.2 75.0,391.2 C71.2,394.2 67.6,400.0 65.0,405.0 C62.4,410.0 60.4,418.3 59.5,421.0 Z" fill="#e6e6e6"/><path d="M59.0,397.5 C64.2,397.2 79.8,396.3 90.0,396.0 C100.2,395.7 108.3,395.7 120.0,395.5 C131.7,395.3 148.3,395.2 160.0,395.0 C171.7,394.8 182.9,394.7 190.0,394.5 C197.1,394.3 200.7,393.8 202.8,393.7 L202.8,407.7 C200.7,407.1 197.1,404.8 190.0,404.0 C182.9,403.2 171.7,402.9 160.0,402.8 C148.3,402.7 131.7,403.2 120.0,403.5 C108.3,403.8 100.2,404.1 90.0,404.5 C79.8,404.9 64.2,405.8 59.0,406.0 Z" fill="#e6e6e6"/><path d="M59.0,344.6 C61.6,344.1 69.0,342.5 74.6,341.5 C80.1,340.5 86.4,339.5 92.3,338.8 C98.2,338.1 105.5,337.5 110.1,337.4 C114.7,337.2 115.0,337.7 120.0,337.9 C125.0,338.1 133.3,338.1 140.0,338.8 C146.7,339.5 153.2,340.5 159.9,341.8 C166.6,343.1 173.1,345.0 179.9,346.8 C186.7,348.6 197.3,351.8 200.8,352.8" fill="none" stroke="#fff" stroke-width="4.0" stroke-dasharray="8.2 4.0" stroke-dashoffset="0.8"/><path d="M59.7,388.6 C60.1,387.6 61.3,384.4 62.3,382.6 C63.3,380.8 64.5,379.4 65.6,377.7 C66.7,376.0 67.8,374.3 69.0,372.6 C70.2,370.9 71.6,368.9 73.0,367.3 C74.4,365.8 75.9,364.5 77.6,363.3 C79.2,362.1 81.0,361.2 82.9,360.4 C84.8,359.6 86.9,359.0 88.9,358.6 C90.9,358.2 92.8,358.0 94.9,358.0 C97.0,358.0 99.4,358.4 101.6,358.6 C103.8,358.8 105.1,358.8 108.2,359.3 C111.3,359.8 114.7,361.1 120.0,361.8 C125.3,362.6 133.3,363.3 140.0,363.8 C146.7,364.3 153.2,364.5 159.9,364.8 C166.6,365.1 172.8,365.0 179.9,365.4 C187.1,365.8 199.0,366.9 202.8,367.2" fill="none" stroke="#fff" stroke-width="3.8" stroke-dasharray="3.5 2.7" stroke-dashoffset="0.8"/><path d="M59.3,376.7 C59.8,375.4 61.2,371.5 62.0,368.8 C62.8,366.1 63.4,363.1 64.2,360.3 C65.0,357.5 66.0,354.6 66.8,351.9 C67.6,349.1 68.4,346.5 69.3,343.8 C70.2,341.1 71.3,338.3 72.4,335.7 C73.5,333.1 74.8,330.5 76.1,328.0 C77.4,325.5 78.5,323.0 80.1,320.7 C81.6,318.4 83.4,315.9 85.4,314.0 C87.5,312.1 89.8,310.2 92.4,309.1 C95.0,308.0 98.0,307.4 101.2,307.6 C104.5,307.8 108.8,309.7 111.9,310.4 C115.0,311.1 117.3,311.4 120.0,311.9 C122.7,312.4 124.7,313.2 128.0,313.6 C131.3,314.0 134.7,314.6 140.0,314.3 C145.3,314.0 153.2,312.7 159.9,311.9 C166.6,311.1 174.6,309.9 179.9,309.5 C185.2,309.1 188.0,309.2 191.8,309.3 C195.6,309.4 201.0,310.1 202.8,310.3" fill="none" stroke="#fff" stroke-width="4.0" stroke-dasharray="8.0 2.4 3.5 2.3" stroke-dashoffset="0.8"/><path d="M59.7,411.9 C60.5,410.4 62.6,406.2 64.3,403.2 C65.9,400.2 67.8,396.4 69.6,393.9 C71.4,391.3 73.0,389.8 75.0,387.9 C77.0,386.0 79.4,383.9 81.6,382.6 C83.8,381.3 85.9,380.6 88.3,379.9 C90.7,379.2 93.3,378.6 96.2,378.3 C99.1,378.0 102.5,378.1 105.6,378.2 C108.7,378.3 112.6,378.8 115.0,379.0 C117.4,379.2 115.8,379.7 120.0,379.4 C124.2,379.1 133.3,378.3 140.0,377.4 C146.7,376.5 153.2,375.0 159.9,373.8 C166.6,372.6 172.8,371.6 179.9,370.4 C187.1,369.2 199.0,367.4 202.8,366.8" fill="none" stroke="#fff" stroke-width="4.0" stroke-dasharray="12.8 3.0" stroke-dashoffset="0.8"/><path d="M59.0,401.8 C64.2,401.6 79.8,400.9 90.0,400.5 C100.2,400.1 108.3,399.8 120.0,399.5 C131.7,399.2 146.2,398.7 160.0,398.8 C173.8,398.9 195.7,399.8 202.8,400.0" fill="none" stroke="#fff" stroke-width="4.3"/><path d="M59.0,344.6 C61.6,344.1 69.0,342.5 74.6,341.5 C80.1,340.5 86.4,339.5 92.3,338.8 C98.2,338.1 105.5,337.5 110.1,337.4 C114.7,337.2 115.0,337.7 120.0,337.9 C125.0,338.1 133.3,338.1 140.0,338.8 C146.7,339.5 153.2,340.5 159.9,341.8 C166.6,343.1 173.1,345.0 179.9,346.8 C186.7,348.6 197.3,351.8 200.8,352.8" fill="none" stroke="#de0c16" stroke-width="2.3" stroke-dasharray="6.6 5.6"/><path d="M59.7,388.6 C60.1,387.6 61.3,384.4 62.3,382.6 C63.3,380.8 64.5,379.4 65.6,377.7 C66.7,376.0 67.8,374.3 69.0,372.6 C70.2,370.9 71.6,368.9 73.0,367.3 C74.4,365.8 75.9,364.5 77.6,363.3 C79.2,362.1 81.0,361.2 82.9,360.4 C84.8,359.6 86.9,359.0 88.9,358.6 C90.9,358.2 92.8,358.0 94.9,358.0 C97.0,358.0 99.4,358.4 101.6,358.6 C103.8,358.8 105.1,358.8 108.2,359.3 C111.3,359.8 114.7,361.1 120.0,361.8 C125.3,362.6 133.3,363.3 140.0,363.8 C146.7,364.3 153.2,364.5 159.9,364.8 C166.6,365.1 172.8,365.0 179.9,365.4 C187.1,365.8 199.0,366.9 202.8,367.2" fill="none" stroke="#0c7a48" stroke-width="2.2" stroke-dasharray="1.9 4.3"/><path d="M59.3,376.7 C59.8,375.4 61.2,371.5 62.0,368.8 C62.8,366.1 63.4,363.1 64.2,360.3 C65.0,357.5 66.0,354.6 66.8,351.9 C67.6,349.1 68.4,346.5 69.3,343.8 C70.2,341.1 71.3,338.3 72.4,335.7 C73.5,333.1 74.8,330.5 76.1,328.0 C77.4,325.5 78.5,323.0 80.1,320.7 C81.6,318.4 83.4,315.9 85.4,314.0 C87.5,312.1 89.8,310.2 92.4,309.1 C95.0,308.0 98.0,307.4 101.2,307.6 C104.5,307.8 108.8,309.7 111.9,310.4 C115.0,311.1 117.3,311.4 120.0,311.9 C122.7,312.4 124.7,313.2 128.0,313.6 C131.3,314.0 134.7,314.6 140.0,314.3 C145.3,314.0 153.2,312.7 159.9,311.9 C166.6,311.1 174.6,309.9 179.9,309.5 C185.2,309.1 188.0,309.2 191.8,309.3 C195.6,309.4 201.0,310.1 202.8,310.3" fill="none" stroke="#17116f" stroke-width="2.3" stroke-dasharray="6.4 4 1.9 3.9"/><path d="M59.7,411.9 C60.5,410.4 62.6,406.2 64.3,403.2 C65.9,400.2 67.8,396.4 69.6,393.9 C71.4,391.3 73.0,389.8 75.0,387.9 C77.0,386.0 79.4,383.9 81.6,382.6 C83.8,381.3 85.9,380.6 88.3,379.9 C90.7,379.2 93.3,378.6 96.2,378.3 C99.1,378.0 102.5,378.1 105.6,378.2 C108.7,378.3 112.6,378.8 115.0,379.0 C117.4,379.2 115.8,379.7 120.0,379.4 C124.2,379.1 133.3,378.3 140.0,377.4 C146.7,376.5 153.2,375.0 159.9,373.8 C166.6,372.6 172.8,371.6 179.9,370.4 C187.1,369.2 199.0,367.4 202.8,366.8" fill="none" stroke="#0f8d84" stroke-width="2.3" stroke-dasharray="11.2 4.6"/><path d="M59.0,401.8 C64.2,401.6 79.8,400.9 90.0,400.5 C100.2,400.1 108.3,399.8 120.0,399.5 C131.7,399.2 146.2,398.7 160.0,398.8 C173.8,398.9 195.7,399.8 202.8,400.0" fill="none" stroke="#000000" stroke-width="2.6"/><line x1="278.1" y1="270.0" x2="278.1" y2="505.5" stroke="#5c5c5c" stroke-width="1.15"/><line x1="277.5" y1="505.5" x2="438.4" y2="505.5" stroke="#5c5c5c" stroke-width="1.15"/><line x1="274.1" y1="298.8" x2="278.1" y2="298.8" stroke="#707070" stroke-width="1.4"/><text transform="translate(270.0,301.9) scale(1,0.850)" font-size="10" text-anchor="end" font-weight="normal" >0.6</text><line x1="274.1" y1="338.6" x2="278.1" y2="338.6" stroke="#707070" stroke-width="1.4"/><text transform="translate(270.0,341.7) scale(1,0.850)" font-size="10" text-anchor="end" font-weight="normal" >0.4</text><line x1="274.1" y1="378.3" x2="278.1" y2="378.3" stroke="#707070" stroke-width="1.4"/><text transform="translate(270.0,381.4) scale(1,0.850)" font-size="10" text-anchor="end" font-weight="normal" >0.2</text><line x1="274.1" y1="418.1" x2="278.1" y2="418.1" stroke="#707070" stroke-width="1.4"/><text transform="translate(270.0,421.2) scale(1,0.850)" font-size="10" text-anchor="end" font-weight="normal" >0</text><line x1="274.1" y1="457.9" x2="278.1" y2="457.9" stroke="#707070" stroke-width="1.4"/><text transform="translate(270.0,461.0) scale(1,0.850)" font-size="10" text-anchor="end" font-weight="normal" >−0.2</text><line x1="274.1" y1="497.6" x2="278.1" y2="497.6" stroke="#707070" stroke-width="1.4"/><text transform="translate(270.0,500.7) scale(1,0.850)" font-size="10" text-anchor="end" font-weight="normal" >−0.4</text><line x1="284.4" y1="505.5" x2="284.4" y2="509.9" stroke="#707070" stroke-width="1.4"/><text transform="translate(284.4,521.2) scale(1,0.850)" font-size="10" text-anchor="middle" font-weight="normal" >0</text><line x1="309.2" y1="505.5" x2="309.2" y2="509.9" stroke="#707070" stroke-width="1.4"/><text transform="translate(309.2,521.2) scale(1,0.850)" font-size="10" text-anchor="middle" font-weight="normal" >4</text><line x1="333.9" y1="505.5" x2="333.9" y2="509.9" stroke="#707070" stroke-width="1.4"/><text transform="translate(333.9,521.2) scale(1,0.850)" font-size="10" text-anchor="middle" font-weight="normal" >8</text><line x1="358.7" y1="505.5" x2="358.7" y2="509.9" stroke="#707070" stroke-width="1.4"/><text transform="translate(358.7,521.2) scale(1,0.850)" font-size="10" text-anchor="middle" font-weight="normal" >12</text><line x1="383.5" y1="505.5" x2="383.5" y2="509.9" stroke="#707070" stroke-width="1.4"/><text transform="translate(383.5,521.2) scale(1,0.850)" font-size="10" text-anchor="middle" font-weight="normal" >16</text><line x1="408.2" y1="505.5" x2="408.2" y2="509.9" stroke="#707070" stroke-width="1.4"/><text transform="translate(408.2,521.2) scale(1,0.850)" font-size="10" text-anchor="middle" font-weight="normal" >20</text><line x1="433.0" y1="505.5" x2="433.0" y2="509.9" stroke="#707070" stroke-width="1.4"/><text transform="translate(433.0,521.2) scale(1,0.850)" font-size="10" text-anchor="middle" font-weight="normal" >24</text><text transform="translate(240.0,387.9) rotate(-90)" font-size="10" text-anchor="middle" textLength="125.0" lengthAdjust="spacingAndGlyphs">Phosphorus (mg/dl/quarter)</text><text x="286.5" y="536.9" font-size="10" text-anchor="start" font-weight="normal" textLength="142.2" lengthAdjust="spacingAndGlyphs">Months from the start of dialysis</text><path d="M289.0,277.0 C289.8,279.8 292.5,288.5 294.0,294.0 C295.5,299.5 296.0,302.3 298.0,309.9 C300.0,317.5 303.6,331.4 305.9,339.8 C308.2,348.2 309.9,353.3 311.9,360.0 C313.9,366.7 315.2,374.0 317.9,380.0 C320.6,386.0 323.9,391.6 327.9,395.9 C331.9,400.2 336.9,403.6 341.9,405.9 C346.9,408.2 352.3,409.7 357.8,409.9 C363.3,410.1 368.8,407.9 375.0,406.9 C381.2,405.9 389.2,405.1 394.9,403.9 C400.5,402.7 404.6,402.2 408.9,399.9 C413.2,397.6 416.9,393.5 420.9,390.0 C424.9,386.5 430.8,380.8 432.8,379.0 L432.8,465.8 C431.1,463.1 426.5,454.5 422.9,449.8 C419.2,445.1 415.6,440.5 410.9,437.9 C406.2,435.2 400.9,434.5 394.9,433.9 C388.9,433.3 381.2,434.0 375.0,434.3 C368.8,434.6 363.3,435.9 357.8,435.8 C352.3,435.7 346.2,435.5 341.9,433.8 C337.6,432.1 334.9,428.2 331.9,425.9 C328.9,423.6 327.9,419.7 323.9,419.9 C319.9,420.1 313.7,424.4 307.9,426.9 C302.1,429.4 292.1,433.5 289.0,434.8 Z" fill="#e6e6e6"/><path d="M289.0,412.3 C293.8,412.8 309.8,414.6 317.9,415.5 C326.0,416.4 329.5,417.3 337.9,417.9 C346.2,418.5 358.5,418.2 368.0,419.0 C377.5,419.8 387.1,421.9 394.9,422.9 C402.7,423.9 408.5,424.2 414.9,424.9 C421.2,425.6 430.0,426.6 433.0,427.0" fill="none" stroke="#fff" stroke-width="4.0" stroke-dasharray="8.2 4.0" stroke-dashoffset="0.8"/><path d="M289.0,362.4 C290.8,365.8 295.9,375.8 300.0,383.0 C304.1,390.2 310.2,400.8 313.9,405.9 C317.6,411.0 319.0,411.2 322.0,413.5 C325.0,415.8 328.2,418.2 331.9,419.9 C335.5,421.6 340.2,423.3 343.9,423.9 C347.5,424.5 349.8,424.2 353.8,423.5 C357.8,422.8 361.1,420.8 368.0,419.9 C374.9,419.0 387.1,418.0 394.9,418.0 C402.7,418.0 408.5,419.1 414.9,419.9 C421.2,420.7 430.0,422.5 433.0,423.0" fill="none" stroke="#fff" stroke-width="3.8" stroke-dasharray="3.5 2.7" stroke-dashoffset="0.8"/><path d="M289.0,309.9 C289.8,312.6 292.2,319.9 294.0,325.9 C295.8,331.9 297.7,339.1 300.0,345.8 C302.3,352.5 305.2,359.5 307.9,365.8 C310.5,372.1 313.6,378.4 315.9,383.7 C318.2,389.0 319.9,393.0 321.9,397.7 C323.9,402.4 325.2,407.9 327.9,411.9 C330.6,415.9 334.6,419.7 337.9,421.9 C341.2,424.1 344.5,424.6 347.8,424.9 C351.1,425.2 354.4,424.7 357.8,423.9 C361.2,423.1 365.1,421.1 368.0,419.9 C370.9,418.7 370.5,417.7 375.0,416.9 C379.5,416.1 388.2,414.9 394.9,414.9 C401.5,414.9 408.5,416.4 414.9,416.9 C421.2,417.4 430.0,417.8 433.0,418.0" fill="none" stroke="#fff" stroke-width="4.0" stroke-dasharray="8.0 2.4 3.5 2.3" stroke-dashoffset="0.8"/><path d="M289.0,368.0 C290.5,370.0 294.9,375.7 298.0,380.0 C301.1,384.3 304.6,389.6 307.9,393.9 C311.2,398.2 314.6,402.2 317.9,405.9 C321.2,409.6 324.6,413.6 327.9,415.9 C331.2,418.2 334.6,419.3 337.9,419.9 C341.2,420.5 342.8,420.0 347.8,419.5 C352.8,419.0 360.1,417.8 368.0,416.9 C375.9,416.0 384.1,414.4 394.9,413.9 C405.7,413.4 426.6,413.9 433.0,413.9" fill="none" stroke="#fff" stroke-width="4.0" stroke-dasharray="12.8 3.0" stroke-dashoffset="0.8"/><path d="M289.0,417.3 C295.8,417.4 316.8,417.6 330.0,417.8 C343.2,418.0 356.3,418.2 368.0,418.3 C379.7,418.4 389.0,418.5 400.0,418.7 C411.0,418.9 428.2,419.2 433.8,419.3" fill="none" stroke="#fff" stroke-width="4.3"/><path d="M289.0,412.3 C293.8,412.8 309.8,414.6 317.9,415.5 C326.0,416.4 329.5,417.3 337.9,417.9 C346.2,418.5 358.5,418.2 368.0,419.0 C377.5,419.8 387.1,421.9 394.9,422.9 C402.7,423.9 408.5,424.2 414.9,424.9 C421.2,425.6 430.0,426.6 433.0,427.0" fill="none" stroke="#de0c16" stroke-width="2.3" stroke-dasharray="6.6 5.6"/><path d="M289.0,362.4 C290.8,365.8 295.9,375.8 300.0,383.0 C304.1,390.2 310.2,400.8 313.9,405.9 C317.6,411.0 319.0,411.2 322.0,413.5 C325.0,415.8 328.2,418.2 331.9,419.9 C335.5,421.6 340.2,423.3 343.9,423.9 C347.5,424.5 349.8,424.2 353.8,423.5 C357.8,422.8 361.1,420.8 368.0,419.9 C374.9,419.0 387.1,418.0 394.9,418.0 C402.7,418.0 408.5,419.1 414.9,419.9 C421.2,420.7 430.0,422.5 433.0,423.0" fill="none" stroke="#0c7a48" stroke-width="2.2" stroke-dasharray="1.9 4.3"/><path d="M289.0,309.9 C289.8,312.6 292.2,319.9 294.0,325.9 C295.8,331.9 297.7,339.1 300.0,345.8 C302.3,352.5 305.2,359.5 307.9,365.8 C310.5,372.1 313.6,378.4 315.9,383.7 C318.2,389.0 319.9,393.0 321.9,397.7 C323.9,402.4 325.2,407.9 327.9,411.9 C330.6,415.9 334.6,419.7 337.9,421.9 C341.2,424.1 344.5,424.6 347.8,424.9 C351.1,425.2 354.4,424.7 357.8,423.9 C361.2,423.1 365.1,421.1 368.0,419.9 C370.9,418.7 370.5,417.7 375.0,416.9 C379.5,416.1 388.2,414.9 394.9,414.9 C401.5,414.9 408.5,416.4 414.9,416.9 C421.2,417.4 430.0,417.8 433.0,418.0" fill="none" stroke="#17116f" stroke-width="2.3" stroke-dasharray="6.4 4 1.9 3.9"/><path d="M289.0,368.0 C290.5,370.0 294.9,375.7 298.0,380.0 C301.1,384.3 304.6,389.6 307.9,393.9 C311.2,398.2 314.6,402.2 317.9,405.9 C321.2,409.6 324.6,413.6 327.9,415.9 C331.2,418.2 334.6,419.3 337.9,419.9 C341.2,420.5 342.8,420.0 347.8,419.5 C352.8,419.0 360.1,417.8 368.0,416.9 C375.9,416.0 384.1,414.4 394.9,413.9 C405.7,413.4 426.6,413.9 433.0,413.9" fill="none" stroke="#0f8d84" stroke-width="2.3" stroke-dasharray="11.2 4.6"/><path d="M289.0,417.3 C295.8,417.4 316.8,417.6 330.0,417.8 C343.2,418.0 356.3,418.2 368.0,418.3 C379.7,418.4 389.0,418.5 400.0,418.7 C411.0,418.9 428.2,419.2 433.8,419.3" fill="none" stroke="#000000" stroke-width="2.6"/><path d="M354.7,293.4 h12.7" stroke="#000" stroke-width="2.1"/><text transform="translate(375.2,296.3) scale(1,0.850)" font-size="10" text-anchor="start" font-weight="normal" >Asia</text><path d="M354.7,305.0 h4.6 M362.8,305.0 h4.6" stroke="#de0c16" stroke-width="2.1"/><text transform="translate(375.2,307.9) scale(1,0.850)" font-size="10" text-anchor="start" font-weight="normal" >Australia</text><rect x="354.9" y="315.7" width="1.9" height="1.9" fill="#5fa98a"/><rect x="359.0" y="315.7" width="1.9" height="1.9" fill="#5fa98a"/><rect x="363.3" y="315.7" width="1.9" height="1.9" fill="#5fa98a"/><text transform="translate(375.2,319.5) scale(1,0.850)" font-size="10" text-anchor="start" font-weight="normal" >Europe</text><rect x="354.8" y="327.6" width="1.9" height="1.9" fill="#17116f"/><path d="M359.1,328.5 h4.6" stroke="#17116f" stroke-width="2.1"/><text transform="translate(375.2,331.4) scale(1,0.850)" font-size="10" text-anchor="start" font-weight="normal" >North America</text><path d="M354.7,340.3 h7.4" stroke="#0f8d84" stroke-width="2.1"/><rect x="365.4" y="339.4" width="1.9" height="1.9" fill="#0f8d84"/><text transform="translate(375.2,343.2) scale(1,0.850)" font-size="10" text-anchor="start" font-weight="normal" >South America</text><line x1="38.6" y1="545.5" x2="38.6" y2="791.8" stroke="#5c5c5c" stroke-width="1.15"/><line x1="38.0" y1="791.8" x2="206.6" y2="791.8" stroke="#5c5c5c" stroke-width="1.15"/><line x1="34.6" y1="554.5" x2="38.6" y2="554.5" stroke="#707070" stroke-width="1.4"/><text transform="translate(30.8,557.6) scale(1,0.850)" font-size="10" text-anchor="end" font-weight="normal" >8</text><line x1="34.6" y1="592.5" x2="38.6" y2="592.5" stroke="#707070" stroke-width="1.4"/><text transform="translate(30.8,595.6) scale(1,0.850)" font-size="10" text-anchor="end" font-weight="normal" >7</text><line x1="34.6" y1="630.6" x2="38.6" y2="630.6" stroke="#707070" stroke-width="1.4"/><text transform="translate(30.8,633.7) scale(1,0.850)" font-size="10" text-anchor="end" font-weight="normal" >6</text><line x1="34.6" y1="668.6" x2="38.6" y2="668.6" stroke="#707070" stroke-width="1.4"/><text transform="translate(30.8,671.8) scale(1,0.850)" font-size="10" text-anchor="end" font-weight="normal" >5</text><line x1="34.6" y1="706.7" x2="38.6" y2="706.7" stroke="#707070" stroke-width="1.4"/><text transform="translate(30.8,709.8) scale(1,0.850)" font-size="10" text-anchor="end" font-weight="normal" >4</text><line x1="34.6" y1="744.8" x2="38.6" y2="744.8" stroke="#707070" stroke-width="1.4"/><text transform="translate(30.8,747.9) scale(1,0.850)" font-size="10" text-anchor="end" font-weight="normal" >3</text><line x1="34.6" y1="782.8" x2="38.6" y2="782.8" stroke="#707070" stroke-width="1.4"/><text transform="translate(30.8,785.9) scale(1,0.850)" font-size="10" text-anchor="end" font-weight="normal" >2</text><line x1="44.6" y1="791.8" x2="44.6" y2="796.2" stroke="#707070" stroke-width="1.4"/><text transform="translate(44.6,807.2) scale(1,0.850)" font-size="10" text-anchor="middle" font-weight="normal" >0</text><line x1="70.6" y1="791.8" x2="70.6" y2="796.2" stroke="#707070" stroke-width="1.4"/><text transform="translate(70.6,807.2) scale(1,0.850)" font-size="10" text-anchor="middle" font-weight="normal" >4</text><line x1="96.5" y1="791.8" x2="96.5" y2="796.2" stroke="#707070" stroke-width="1.4"/><text transform="translate(96.5,807.2) scale(1,0.850)" font-size="10" text-anchor="middle" font-weight="normal" >8</text><line x1="122.5" y1="791.8" x2="122.5" y2="796.2" stroke="#707070" stroke-width="1.4"/><text transform="translate(122.5,807.2) scale(1,0.850)" font-size="10" text-anchor="middle" font-weight="normal" >12</text><line x1="148.5" y1="791.8" x2="148.5" y2="796.2" stroke="#707070" stroke-width="1.4"/><text transform="translate(148.5,807.2) scale(1,0.850)" font-size="10" text-anchor="middle" font-weight="normal" >16</text><line x1="174.4" y1="791.8" x2="174.4" y2="796.2" stroke="#707070" stroke-width="1.4"/><text transform="translate(174.4,807.2) scale(1,0.850)" font-size="10" text-anchor="middle" font-weight="normal" >20</text><line x1="200.4" y1="791.8" x2="200.4" y2="796.2" stroke="#707070" stroke-width="1.4"/><text transform="translate(200.4,807.2) scale(1,0.850)" font-size="10" text-anchor="middle" font-weight="normal" >24</text><text transform="translate(18.2,668.3) rotate(-90)" font-size="10" text-anchor="middle" textLength="17.8" lengthAdjust="spacingAndGlyphs">NLR</text><text x="51.2" y="823.4" font-size="10" text-anchor="start" font-weight="normal" textLength="142.2" lengthAdjust="spacingAndGlyphs">Months from the start of dialysis</text><path d="M47.6,678.0 C48.3,679.7 50.6,685.3 52.0,688.0 C53.4,690.7 54.5,691.8 56.0,694.3 C57.5,696.8 59.5,700.2 61.3,702.7 C63.1,705.2 64.6,707.1 66.6,709.4 C68.6,711.7 70.1,714.5 73.2,716.7 C76.3,718.9 81.2,721.4 85.2,722.7 C89.2,724.0 93.2,724.2 97.0,724.6 C100.8,725.0 102.6,725.0 107.8,725.0 C113.0,725.0 119.3,724.5 128.0,724.5 C136.7,724.5 151.3,725.2 160.0,725.0 C168.7,724.8 173.7,724.2 180.0,723.0 C186.3,721.8 194.8,718.8 197.8,718.0 L197.8,742.0 C194.8,741.0 186.3,737.3 180.0,736.0 C173.7,734.7 168.7,734.4 160.0,734.0 C151.3,733.6 136.7,733.6 128.0,733.5 C119.3,733.4 113.0,733.5 107.8,733.5 C102.6,733.5 100.8,733.7 97.0,733.4 C93.2,733.1 89.2,733.0 85.2,731.7 C81.2,730.4 76.3,727.9 73.2,725.7 C70.1,723.5 68.6,720.7 66.6,718.4 C64.6,716.1 63.1,714.2 61.3,711.7 C59.5,709.2 57.5,705.8 56.0,703.3 C54.5,700.8 53.4,699.5 52.0,696.8 C50.6,694.1 48.3,688.6 47.6,687.0 Z" fill="#e6e6e6"/><path d="M47.6,715.5 C49.3,717.2 54.6,723.1 58.0,726.0 C61.4,728.9 64.6,731.3 67.9,733.0 C71.2,734.7 72.9,735.4 77.9,736.2 C82.9,737.0 89.6,737.6 97.9,737.8 C106.2,738.0 117.7,737.4 128.0,737.2 C138.3,737.0 151.3,736.5 160.0,736.5 C168.7,736.5 173.7,737.4 180.0,737.0 C186.3,736.6 194.8,734.5 197.8,734.0 L197.8,751.0 C194.8,750.3 186.3,748.0 180.0,747.0 C173.7,746.0 168.7,745.3 160.0,745.0 C151.3,744.7 138.3,745.1 128.0,745.2 C117.7,745.3 106.2,746.0 97.9,745.8 C89.6,745.6 82.9,745.0 77.9,744.2 C72.9,743.4 71.2,742.7 67.9,741.0 C64.6,739.3 61.4,736.9 58.0,734.0 C54.6,731.1 49.3,725.2 47.6,723.5 Z" fill="#e6e6e6"/><path d="M47.6,723.0 C48.5,724.1 51.2,727.0 53.3,729.5 C55.4,732.0 57.8,735.8 60.0,738.2 C62.2,740.7 64.4,742.4 66.6,744.2 C68.8,746.0 71.0,747.5 73.2,748.8 C75.4,750.1 77.5,751.2 79.9,752.1 C82.4,753.0 84.9,753.6 87.9,754.1 C90.9,754.6 91.2,755.1 97.9,755.2 C104.6,755.3 117.7,754.9 128.0,754.6 C138.3,754.3 151.3,753.9 160.0,753.5 C168.7,753.1 173.7,752.9 180.0,752.5 C186.3,752.1 194.8,751.2 197.8,751.0 L197.8,762.0 C194.8,761.8 186.3,761.2 180.0,761.0 C173.7,760.8 168.7,760.2 160.0,760.5 C151.3,760.8 138.3,762.5 128.0,763.0 C117.7,763.5 104.6,763.8 97.9,763.8 C91.2,763.8 90.9,763.2 87.9,762.7 C84.9,762.2 82.4,761.6 79.9,760.7 C77.5,759.8 75.4,758.7 73.2,757.4 C71.0,756.1 68.8,754.6 66.6,752.8 C64.4,751.0 62.2,749.2 60.0,746.8 C57.8,744.3 55.4,740.6 53.3,738.1 C51.2,735.6 48.5,732.7 47.6,731.6 Z" fill="#e6e6e6"/><path d="M47.6,739.5 C49.3,741.5 54.6,748.3 58.0,751.5 C61.4,754.7 64.6,756.7 67.9,758.5 C71.2,760.3 73.9,761.4 77.9,762.5 C81.9,763.6 83.6,764.6 91.9,765.0 C100.2,765.4 116.7,764.8 128.0,764.6 C139.3,764.4 151.3,764.3 160.0,764.0 C168.7,763.7 173.7,763.5 180.0,763.0 C186.3,762.5 194.8,761.3 197.8,761.0 L197.8,778.0 C194.8,777.3 186.3,775.0 180.0,774.0 C173.7,773.0 168.7,772.2 160.0,772.0 C151.3,771.8 139.3,772.8 128.0,773.0 C116.7,773.2 100.2,773.7 91.9,773.4 C83.6,773.1 81.9,772.1 77.9,771.0 C73.9,769.9 71.2,768.8 67.9,767.0 C64.6,765.2 61.4,763.2 58.0,760.0 C54.6,756.8 49.3,750.0 47.6,748.0 Z" fill="#e6e6e6"/><path d="M47.6,719.5 C49.3,721.2 54.6,727.0 58.0,729.9 C61.4,732.8 64.6,735.2 67.9,736.9 C71.2,738.6 72.9,739.4 77.9,740.2 C82.9,741.0 89.6,741.6 97.9,741.8 C106.2,742.0 117.7,741.4 128.0,741.2 C138.3,741.0 148.3,740.2 159.9,740.4 C171.5,740.6 191.5,742.2 197.8,742.6" fill="none" stroke="#fff" stroke-width="3.8" stroke-dasharray="3.5 2.7" stroke-dashoffset="0.8"/><path d="M48.0,682.6 C48.7,684.2 50.7,689.7 52.0,692.4 C53.3,695.1 54.5,696.3 56.0,698.8 C57.5,701.3 59.5,704.7 61.3,707.2 C63.1,709.7 64.6,711.6 66.6,713.9 C68.6,716.2 70.1,719.0 73.2,721.2 C76.3,723.4 81.2,725.9 85.2,727.2 C89.2,728.5 93.2,728.6 97.0,729.0 C100.8,729.4 102.6,729.3 107.8,729.3 C113.0,729.3 119.3,728.9 128.0,728.9 C136.7,728.9 148.3,729.3 159.9,729.5 C171.5,729.7 191.5,730.2 197.8,730.3" fill="none" stroke="#fff" stroke-width="4.0" stroke-dasharray="8.0 2.4 3.5 2.3" stroke-dashoffset="0.8"/><path d="M47.6,743.8 C49.3,745.8 54.6,752.6 58.0,755.8 C61.4,759.0 64.6,761.0 67.9,762.8 C71.2,764.6 73.9,765.7 77.9,766.8 C81.9,767.9 83.6,768.9 91.9,769.2 C100.2,769.5 116.7,769.0 128.0,768.8 C139.3,768.6 148.3,767.7 159.9,767.8 C171.5,767.9 191.5,769.0 197.8,769.2" fill="none" stroke="#fff" stroke-width="4.0" stroke-dasharray="12.8 3.0" stroke-dashoffset="0.8"/><path d="M48.0,727.2 C48.9,728.3 51.3,731.2 53.3,733.8 C55.3,736.3 57.8,740.0 60.0,742.5 C62.2,745.0 64.4,746.7 66.6,748.5 C68.8,750.3 71.0,751.8 73.2,753.1 C75.4,754.4 77.5,755.5 79.9,756.4 C82.4,757.3 84.9,757.9 87.9,758.4 C90.9,758.9 91.2,759.5 97.9,759.5 C104.6,759.5 117.7,759.1 128.0,758.6 C138.3,758.1 148.3,757.2 159.9,756.8 C171.5,756.4 191.5,756.3 197.8,756.2" fill="none" stroke="#fff" stroke-width="4.3"/><path d="M47.6,719.5 C49.3,721.2 54.6,727.0 58.0,729.9 C61.4,732.8 64.6,735.2 67.9,736.9 C71.2,738.6 72.9,739.4 77.9,740.2 C82.9,741.0 89.6,741.6 97.9,741.8 C106.2,742.0 117.7,741.4 128.0,741.2 C138.3,741.0 148.3,740.2 159.9,740.4 C171.5,740.6 191.5,742.2 197.8,742.6" fill="none" stroke="#0c7a48" stroke-width="2.2" stroke-dasharray="1.9 4.3"/><path d="M48.0,682.6 C48.7,684.2 50.7,689.7 52.0,692.4 C53.3,695.1 54.5,696.3 56.0,698.8 C57.5,701.3 59.5,704.7 61.3,707.2 C63.1,709.7 64.6,711.6 66.6,713.9 C68.6,716.2 70.1,719.0 73.2,721.2 C76.3,723.4 81.2,725.9 85.2,727.2 C89.2,728.5 93.2,728.6 97.0,729.0 C100.8,729.4 102.6,729.3 107.8,729.3 C113.0,729.3 119.3,728.9 128.0,728.9 C136.7,728.9 148.3,729.3 159.9,729.5 C171.5,729.7 191.5,730.2 197.8,730.3" fill="none" stroke="#17116f" stroke-width="2.3" stroke-dasharray="6.4 4 1.9 3.9"/><path d="M47.6,743.8 C49.3,745.8 54.6,752.6 58.0,755.8 C61.4,759.0 64.6,761.0 67.9,762.8 C71.2,764.6 73.9,765.7 77.9,766.8 C81.9,767.9 83.6,768.9 91.9,769.2 C100.2,769.5 116.7,769.0 128.0,768.8 C139.3,768.6 148.3,767.7 159.9,767.8 C171.5,767.9 191.5,769.0 197.8,769.2" fill="none" stroke="#0f8d84" stroke-width="2.3" stroke-dasharray="11.2 4.6"/><path d="M48.0,727.2 C48.9,728.3 51.3,731.2 53.3,733.8 C55.3,736.3 57.8,740.0 60.0,742.5 C62.2,745.0 64.4,746.7 66.6,748.5 C68.8,750.3 71.0,751.8 73.2,753.1 C75.4,754.4 77.5,755.5 79.9,756.4 C82.4,757.3 84.9,757.9 87.9,758.4 C90.9,758.9 91.2,759.5 97.9,759.5 C104.6,759.5 117.7,759.1 128.0,758.6 C138.3,758.1 148.3,757.2 159.9,756.8 C171.5,756.4 191.5,756.3 197.8,756.2" fill="none" stroke="#000000" stroke-width="2.6"/><line x1="273.1" y1="545.8" x2="273.1" y2="791.6" stroke="#5c5c5c" stroke-width="1.15"/><line x1="272.5" y1="791.6" x2="441.0" y2="791.6" stroke="#5c5c5c" stroke-width="1.15"/><line x1="269.1" y1="571.6" x2="273.1" y2="571.6" stroke="#707070" stroke-width="1.4"/><text transform="translate(265.0,574.7) scale(1,0.850)" font-size="10" text-anchor="end" font-weight="normal" >2</text><line x1="269.1" y1="628.8" x2="273.1" y2="628.8" stroke="#707070" stroke-width="1.4"/><text transform="translate(265.0,631.9) scale(1,0.850)" font-size="10" text-anchor="end" font-weight="normal" >1</text><line x1="269.1" y1="686.0" x2="273.1" y2="686.0" stroke="#707070" stroke-width="1.4"/><text transform="translate(265.0,689.1) scale(1,0.850)" font-size="10" text-anchor="end" font-weight="normal" >0</text><line x1="269.1" y1="743.2" x2="273.1" y2="743.2" stroke="#707070" stroke-width="1.4"/><text transform="translate(265.0,746.3) scale(1,0.850)" font-size="10" text-anchor="end" font-weight="normal" >−1</text><line x1="278.7" y1="791.6" x2="278.7" y2="796.0" stroke="#707070" stroke-width="1.4"/><text transform="translate(278.7,807.2) scale(1,0.850)" font-size="10" text-anchor="middle" font-weight="normal" >0</text><line x1="304.6" y1="791.6" x2="304.6" y2="796.0" stroke="#707070" stroke-width="1.4"/><text transform="translate(304.6,807.2) scale(1,0.850)" font-size="10" text-anchor="middle" font-weight="normal" >4</text><line x1="330.6" y1="791.6" x2="330.6" y2="796.0" stroke="#707070" stroke-width="1.4"/><text transform="translate(330.6,807.2) scale(1,0.850)" font-size="10" text-anchor="middle" font-weight="normal" >8</text><line x1="356.5" y1="791.6" x2="356.5" y2="796.0" stroke="#707070" stroke-width="1.4"/><text transform="translate(356.5,807.2) scale(1,0.850)" font-size="10" text-anchor="middle" font-weight="normal" >12</text><line x1="382.4" y1="791.6" x2="382.4" y2="796.0" stroke="#707070" stroke-width="1.4"/><text transform="translate(382.4,807.2) scale(1,0.850)" font-size="10" text-anchor="middle" font-weight="normal" >16</text><line x1="408.4" y1="791.6" x2="408.4" y2="796.0" stroke="#707070" stroke-width="1.4"/><text transform="translate(408.4,807.2) scale(1,0.850)" font-size="10" text-anchor="middle" font-weight="normal" >20</text><line x1="434.3" y1="791.6" x2="434.3" y2="796.0" stroke="#707070" stroke-width="1.4"/><text transform="translate(434.3,807.2) scale(1,0.850)" font-size="10" text-anchor="middle" font-weight="normal" >24</text><text transform="translate(246.1,668.1) rotate(-90)" font-size="10" text-anchor="middle" textLength="55.2" lengthAdjust="spacingAndGlyphs">NLR/quarter</text><text x="286.0" y="823.4" font-size="10" text-anchor="start" font-weight="normal" textLength="142.2" lengthAdjust="spacingAndGlyphs">Months from the start of dialysis</text><path d="M285.4,704.0 C286.7,703.8 289.4,704.0 293.0,703.0 C296.6,702.0 302.7,699.8 307.0,698.0 C311.3,696.2 314.7,694.0 319.0,692.0 C323.3,690.0 328.7,687.5 333.0,686.0 C337.3,684.5 340.0,683.6 345.0,683.0 C350.0,682.4 354.7,682.9 363.0,682.5 C371.3,682.1 386.9,681.5 394.9,680.9 C402.9,680.3 406.2,680.2 410.9,678.9 C415.6,677.6 418.9,675.7 422.9,672.9 C426.9,670.1 432.8,663.8 434.8,662.0 L434.8,707.9 C432.8,706.6 426.9,702.2 422.9,699.9 C418.9,697.6 415.6,695.2 410.9,693.9 C406.2,692.6 402.9,692.6 394.9,691.9 C386.9,691.2 371.6,689.5 363.0,689.5 C354.4,689.5 348.0,690.6 343.0,692.0 C338.0,693.4 336.3,695.0 333.0,698.0 C329.7,701.0 326.3,705.3 323.0,710.0 C319.7,714.7 316.3,720.3 313.0,726.0 C309.7,731.7 306.3,737.7 303.0,744.0 C299.7,750.3 295.9,758.0 293.0,764.0 C290.1,770.0 286.7,777.3 285.4,780.0 Z" fill="#e6e6e6"/><path d="M285.4,718.9 C286.7,718.1 290.1,716.1 293.0,713.9 C295.9,711.7 299.6,708.4 302.9,705.9 C306.2,703.4 309.6,701.1 312.9,699.0 C316.2,696.9 319.6,694.8 322.9,693.0 C326.2,691.2 329.2,689.7 332.9,688.5 C336.6,687.3 339.6,686.5 345.0,686.0 C350.4,685.5 356.7,685.5 365.0,685.5 C373.3,685.5 386.6,685.8 394.9,686.0 C403.2,686.2 408.2,686.3 414.9,686.5 C421.5,686.7 431.5,686.9 434.8,687.0" fill="none" stroke="#fff" stroke-width="3.8" stroke-dasharray="3.5 2.7" stroke-dashoffset="0.8"/><path d="M285.4,761.8 C286.7,759.1 290.1,751.5 293.0,745.9 C295.9,740.2 299.6,733.9 302.9,727.9 C306.2,721.9 309.6,714.9 312.9,709.9 C316.2,704.9 319.6,701.3 322.9,698.0 C326.2,694.7 329.6,692.0 332.9,690.0 C336.2,688.0 338.8,686.8 342.8,686.0 C346.8,685.2 351.4,684.9 356.8,685.0 C362.2,685.1 368.6,686.1 375.0,686.5 C381.4,686.9 388.2,687.3 394.9,687.5 C401.5,687.7 408.2,687.4 414.9,687.5 C421.5,687.6 431.5,687.9 434.8,688.0" fill="none" stroke="#fff" stroke-width="4.0" stroke-dasharray="8.0 2.4 3.5 2.3" stroke-dashoffset="0.8"/><path d="M285.4,727.9 C286.7,726.4 290.1,722.2 293.0,718.9 C295.9,715.6 299.6,711.0 302.9,707.9 C306.2,704.8 309.6,702.5 312.9,700.0 C316.2,697.5 319.6,695.0 322.9,693.0 C326.2,691.0 329.2,689.2 332.9,688.0 C336.6,686.8 339.6,685.9 345.0,685.5 C350.4,685.1 356.7,685.4 365.0,685.5 C373.3,685.6 386.6,685.9 394.9,686.0 C403.2,686.1 408.2,686.0 414.9,686.0 C421.5,686.0 431.5,686.0 434.8,686.0" fill="none" stroke="#fff" stroke-width="4.0" stroke-dasharray="12.8 3.0" stroke-dashoffset="0.8"/><path d="M285.4,737.3 C286.7,735.7 290.1,731.5 293.0,727.9 C295.9,724.3 299.6,719.7 302.9,715.9 C306.2,712.1 309.6,708.2 312.9,704.9 C316.2,701.6 319.6,698.6 322.9,696.0 C326.2,693.4 329.6,690.8 332.9,689.0 C336.2,687.2 339.5,685.9 342.8,685.0 C346.1,684.1 347.4,683.6 352.8,683.6 C358.2,683.6 368.0,684.6 375.0,685.0 C382.0,685.4 388.2,685.9 394.9,686.0 C401.5,686.1 408.2,685.8 414.9,685.6 C421.5,685.4 431.5,685.0 434.8,684.9" fill="none" stroke="#fff" stroke-width="4.3"/><path d="M285.4,718.9 C286.7,718.1 290.1,716.1 293.0,713.9 C295.9,711.7 299.6,708.4 302.9,705.9 C306.2,703.4 309.6,701.1 312.9,699.0 C316.2,696.9 319.6,694.8 322.9,693.0 C326.2,691.2 329.2,689.7 332.9,688.5 C336.6,687.3 339.6,686.5 345.0,686.0 C350.4,685.5 356.7,685.5 365.0,685.5 C373.3,685.5 386.6,685.8 394.9,686.0 C403.2,686.2 408.2,686.3 414.9,686.5 C421.5,686.7 431.5,686.9 434.8,687.0" fill="none" stroke="#0c7a48" stroke-width="2.2" stroke-dasharray="1.9 4.3"/><path d="M285.4,761.8 C286.7,759.1 290.1,751.5 293.0,745.9 C295.9,740.2 299.6,733.9 302.9,727.9 C306.2,721.9 309.6,714.9 312.9,709.9 C316.2,704.9 319.6,701.3 322.9,698.0 C326.2,694.7 329.6,692.0 332.9,690.0 C336.2,688.0 338.8,686.8 342.8,686.0 C346.8,685.2 351.4,684.9 356.8,685.0 C362.2,685.1 368.6,686.1 375.0,686.5 C381.4,686.9 388.2,687.3 394.9,687.5 C401.5,687.7 408.2,687.4 414.9,687.5 C421.5,687.6 431.5,687.9 434.8,688.0" fill="none" stroke="#17116f" stroke-width="2.3" stroke-dasharray="6.4 4 1.9 3.9"/><path d="M285.4,727.9 C286.7,726.4 290.1,722.2 293.0,718.9 C295.9,715.6 299.6,711.0 302.9,707.9 C306.2,704.8 309.6,702.5 312.9,700.0 C316.2,697.5 319.6,695.0 322.9,693.0 C326.2,691.0 329.2,689.2 332.9,688.0 C336.6,686.8 339.6,685.9 345.0,685.5 C350.4,685.1 356.7,685.4 365.0,685.5 C373.3,685.6 386.6,685.9 394.9,686.0 C403.2,686.1 408.2,686.0 414.9,686.0 C421.5,686.0 431.5,686.0 434.8,686.0" fill="none" stroke="#0f8d84" stroke-width="2.3" stroke-dasharray="11.2 4.6"/><path d="M285.4,737.3 C286.7,735.7 290.1,731.5 293.0,727.9 C295.9,724.3 299.6,719.7 302.9,715.9 C306.2,712.1 309.6,708.2 312.9,704.9 C316.2,701.6 319.6,698.6 322.9,696.0 C326.2,693.4 329.6,690.8 332.9,689.0 C336.2,687.2 339.5,685.9 342.8,685.0 C346.1,684.1 347.4,683.6 352.8,683.6 C358.2,683.6 368.0,684.6 375.0,685.0 C382.0,685.4 388.2,685.9 394.9,686.0 C401.5,686.1 408.2,685.8 414.9,685.6 C421.5,685.4 431.5,685.0 434.8,684.9" fill="none" stroke="#000000" stroke-width="2.6"/><path d="M316.4,580.1 h13.6" stroke="#000" stroke-width="2.1"/><text transform="translate(334.0,583.0) scale(1,0.850)" font-size="10" text-anchor="start" font-weight="normal" >Asia</text><rect x="316.7" y="591.2" width="1.9" height="1.9" fill="#5fa98a"/><rect x="321.0" y="591.2" width="1.9" height="1.9" fill="#5fa98a"/><rect x="325.7" y="591.2" width="1.9" height="1.9" fill="#5fa98a"/><text transform="translate(334.0,595.1) scale(1,0.850)" font-size="10" text-anchor="start" font-weight="normal" >Europe</text><rect x="316.5" y="603.6" width="1.9" height="1.9" fill="#17116f"/><path d="M321.2,604.6 h4.9" stroke="#17116f" stroke-width="2.1"/><text transform="translate(334.0,607.5) scale(1,0.850)" font-size="10" text-anchor="start" font-weight="normal" >North America</text><path d="M316.4,616.9 h7.9" stroke="#0f8d84" stroke-width="2.1"/><rect x="328.0" y="615.9" width="1.9" height="1.9" fill="#0f8d84"/><text transform="translate(334.0,619.8) scale(1,0.850)" font-size="10" text-anchor="start" font-weight="normal" >South America</text><text x="8.7" y="263.6" font-size="11" text-anchor="start" font-weight="bold" >a</text><text x="8.2" y="536.9" font-size="11" text-anchor="start" font-weight="bold" >b</text><text x="9.6" y="822.5" font-size="11" text-anchor="start" font-weight="bold" >c</text></svg></body></html>
